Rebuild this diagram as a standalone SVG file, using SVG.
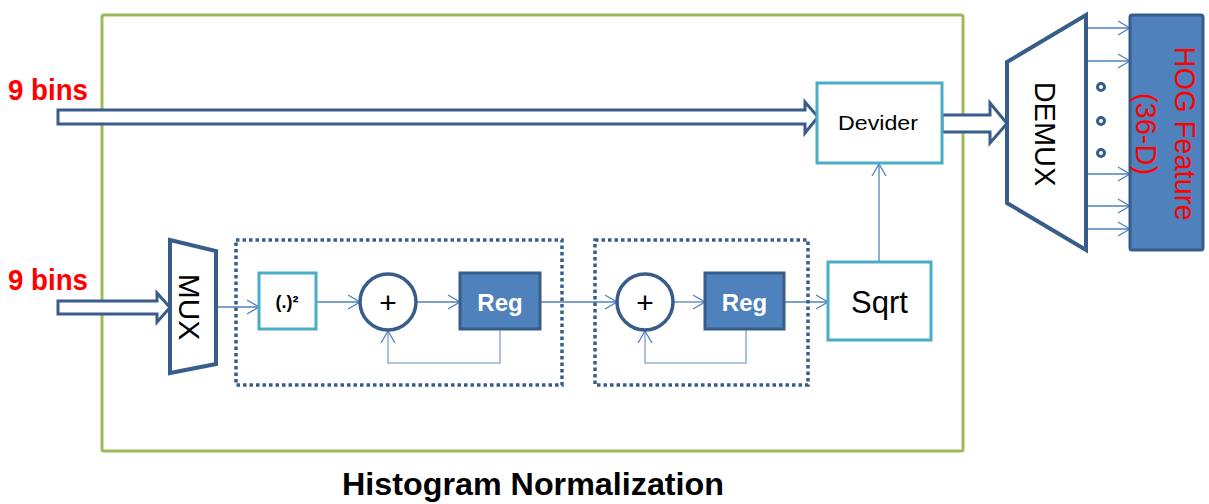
<svg xmlns="http://www.w3.org/2000/svg" width="1209" height="504" viewBox="0 0 1209 504">
<defs>
<marker id="arr" markerUnits="userSpaceOnUse" markerWidth="14" markerHeight="16" refX="12" refY="8" orient="auto" viewBox="0 0 14 16">
<path d="M0,1 L12,8 L0,15" fill="none" stroke="#4F81BD" stroke-width="1.3"/>
</marker>
</defs>
<style>
.lbl{font-family:"Liberation Sans",Arial,sans-serif;}
.red{fill:#FF0000;font-weight:bold;font-size:29px;}
.thin{fill:none;stroke:#4F81BD;stroke-width:1.3;}
.fb{fill:none;stroke:#95B3D7;stroke-width:1.6;}
.dbl{fill:#FFFFFF;stroke:#385D8A;stroke-width:3;stroke-linejoin:miter;}
.dot{fill:none;stroke:#385D8A;stroke-width:3.5;stroke-dasharray:3.5 3;}
.cyan{fill:#FFFFFF;stroke:#4BACC6;stroke-width:3;}
.reg{fill:#4F81BD;stroke:#385D8A;stroke-width:3;}
.sum{fill:#FFFFFF;stroke:#385D8A;stroke-width:3.5;}
.mux{fill:#FFFFFF;stroke:#385D8A;stroke-width:4;stroke-linejoin:miter;}
.bullet{fill:#FFFFFF;stroke:#385D8A;stroke-width:3;}
</style>
<rect width="1209" height="504" fill="#FFFFFF"/>
<g id="histogram-normalization">
<rect x="102" y="15" width="861" height="436" rx="2" fill="none" stroke="#9BBB59" stroke-width="3"/>
<text class="lbl" x="533" y="495" text-anchor="middle" font-weight="bold" font-size="31" fill="#000" textLength="382" lengthAdjust="spacingAndGlyphs">Histogram Normalization</text>
</g>
<g id="input-labels">
<text class="lbl red" x="8" y="100" textLength="80" lengthAdjust="spacingAndGlyphs">9 bins</text>
<text class="lbl red" x="8" y="290" textLength="80" lengthAdjust="spacingAndGlyphs">9 bins</text>
</g>
<g id="connectors">
<polygon class="dbl" points="58,110 805,110 805,102 818,117 805,133 805,124 58,124"/>
<polygon class="dbl" points="58,301 157,301 157,293 170,307.5 157,322 157,314 58,314"/>
<polygon class="dbl" points="942,115 990,115 990,103 1007,123.5 990,143 990,132 942,132" stroke-width="3.5"/>
<line class="thin" x1="216" y1="307" x2="259" y2="307" marker-end="url(#arr)"/>
<line class="thin" x1="316" y1="302" x2="360" y2="302" marker-end="url(#arr)"/>
<line class="thin" x1="416" y1="302" x2="460" y2="302" marker-end="url(#arr)"/>
<line class="thin" x1="540" y1="302" x2="617" y2="302" marker-end="url(#arr)"/>
<line class="thin" x1="673" y1="302" x2="705" y2="302" marker-end="url(#arr)"/>
<line class="thin" x1="784" y1="302" x2="828" y2="302" marker-end="url(#arr)"/>
<line class="thin" x1="879" y1="262" x2="879" y2="164" marker-end="url(#arr)"/>
<path class="fb" d="M500,329 V363 H388 V331" marker-end="url(#arr)"/>
<path class="fb" d="M746,329 V363 H645 V331" marker-end="url(#arr)"/>
<line class="thin" x1="1086" y1="28" x2="1130" y2="28" marker-end="url(#arr)"/>
<line class="thin" x1="1086" y1="61" x2="1130" y2="61" marker-end="url(#arr)"/>
<line class="thin" x1="1086" y1="174" x2="1130" y2="174" marker-end="url(#arr)"/>
<line class="thin" x1="1086" y1="206" x2="1130" y2="206" marker-end="url(#arr)"/>
<line class="thin" x1="1086" y1="229" x2="1130" y2="229" marker-end="url(#arr)"/>
</g>
<g id="mux">
<polygon class="mux" points="170,240 216,251 216,364 170,373"/>
<text class="lbl" transform="translate(190,307) rotate(90)" x="0" y="11" text-anchor="middle" font-size="30" fill="#000">MUX</text>
</g>
<g id="accumulator-1">
<rect class="dot" x="236" y="240" width="326" height="145"/>
</g>
<g id="square">
<rect class="cyan" x="259" y="273" width="57" height="56"/>
<text class="lbl" x="287" y="308" text-anchor="middle" font-weight="bold" font-size="18" fill="#000">(.)²</text>
</g>
<g id="adder-1">
<circle class="sum" cx="388" cy="302" r="28"/>
<text class="lbl" x="388" y="313" text-anchor="middle" font-size="30" fill="#000">+</text>
</g>
<g id="reg-1">
<rect class="reg" x="460" y="273" width="80" height="56"/>
<text class="lbl" x="500" y="311" text-anchor="middle" font-weight="bold" font-size="24" fill="#FFFFFF">Reg</text>
</g>
<g id="accumulator-2">
<rect class="dot" x="595" y="240" width="213" height="145"/>
</g>
<g id="adder-2">
<circle class="sum" cx="645" cy="302" r="28"/>
<text class="lbl" x="645" y="313" text-anchor="middle" font-size="30" fill="#000">+</text>
</g>
<g id="reg-2">
<rect class="reg" x="705" y="273" width="79" height="56"/>
<text class="lbl" x="744.5" y="311" text-anchor="middle" font-weight="bold" font-size="24" fill="#FFFFFF">Reg</text>
</g>
<g id="sqrt">
<rect class="cyan" x="828" y="262" width="103" height="78"/>
<text class="lbl" x="879.5" y="313" text-anchor="middle" font-size="31" fill="#000">Sqrt</text>
</g>
<g id="devider">
<rect class="cyan" x="817" y="83" width="125" height="80"/>
<text class="lbl" x="878" y="130" text-anchor="middle" font-size="21" fill="#000" textLength="80" lengthAdjust="spacingAndGlyphs">Devider</text>
</g>
<g id="demux">
<polygon class="mux" points="1007,62 1086,15 1086,250 1007,203"/>
<text class="lbl" transform="translate(1046,134) rotate(90)" x="0" y="11" text-anchor="middle" font-size="29" fill="#000">DEMUX</text>
<circle class="bullet" cx="1101" cy="87" r="3.5"/>
<circle class="bullet" cx="1101" cy="121" r="3.5"/>
<circle class="bullet" cx="1101" cy="153" r="3.5"/>
</g>
<g id="hog-feature">
<rect x="1130" y="15" width="73" height="235" rx="2" fill="#4F81BD" stroke="#385D8A" stroke-width="3"/>
<text class="lbl" transform="translate(1175,133.5) rotate(90)" x="0" y="0" text-anchor="middle" font-size="29" fill="#FF0000">HOG Feature</text>
<text class="lbl" transform="translate(1136,134) rotate(90)" x="0" y="0" text-anchor="middle" font-size="29" fill="#FF0000">(36-D)</text>
</g>
</svg>
